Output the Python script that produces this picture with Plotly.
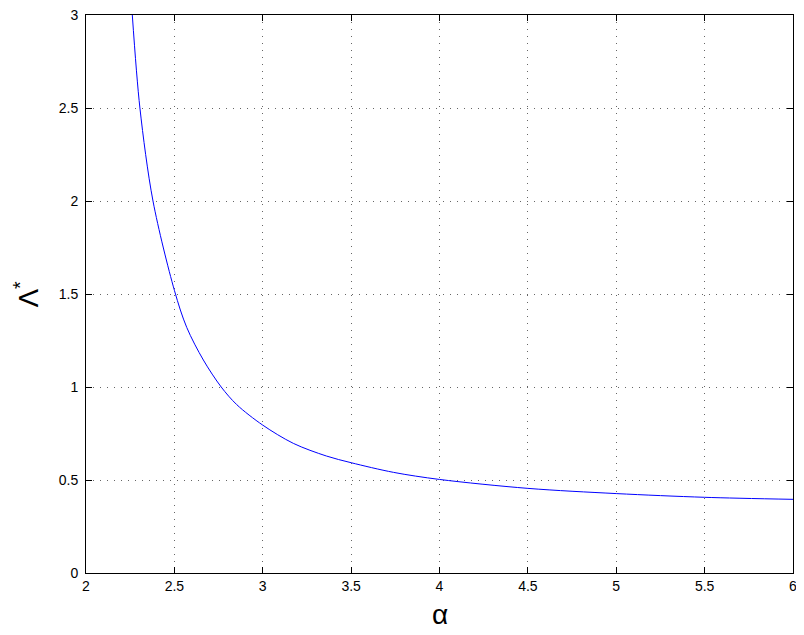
import plotly.graph_objects as go

# Values
alpha = [2.262, 2.305, 2.379, 2.5, 2.57, 2.664, 2.765, 2.853, 3.0, 3.173,
         3.36, 3.5, 3.74, 4.0, 4.5, 5.0, 5.5, 6.0]
lam_star = [3.0, 2.5, 2.0, 1.52, 1.32, 1.145, 1.0, 0.905, 0.795, 0.697,
            0.629, 0.593, 0.541, 0.503, 0.455, 0.427, 0.407, 0.396]

x_ticks = [2, 2.5, 3, 3.5, 4, 4.5, 5, 5.5, 6]
x_tick_labels = ["2", "2.5", "3", "3.5", "4", "4.5", "5", "5.5", "6"]
y_ticks = [0, 0.5, 1, 1.5, 2, 2.5, 3]
y_tick_labels = ["0", "0.5", "1", "1.5", "2", "2.5", "3"]

FONT = "Liberation Sans, Arial, sans-serif"

fig = go.Figure()
fig.add_trace(go.Scatter(
    x=alpha, y=lam_star, mode="lines",
    line=dict(color="rgb(0,0,255)", width=1, shape="spline", smoothing=0.9),
    showlegend=False, hoverinfo="skip", cliponaxis=True,
))

axis_common = dict(
    showline=True, linecolor="black", linewidth=1, mirror="ticks",
    ticks="inside", ticklen=6, tickcolor="black", tickwidth=1,
    showgrid=True, gridcolor="rgba(0,0,0,0.6)", griddash="1px,6px", gridwidth=1,
    zeroline=False, ticklabeloverflow="allow",
    tickfont=dict(family=FONT, size=14, color="black"),
)

fig.update_xaxes(range=[2, 6], tickvals=x_ticks, ticktext=x_tick_labels,
                 **axis_common)
fig.update_yaxes(range=[0, 3], tickvals=y_ticks, ticktext=y_tick_labels,
                 ticklabelstandoff=4, **axis_common)

fig.add_annotation(text="α", xref="paper", yref="paper", x=0.5, y=-0.075,
                   xanchor="center", yanchor="middle", showarrow=False,
                   font=dict(family=FONT, size=28, color="black"))
fig.add_annotation(text="Λ<sup>*</sup>", xref="paper", yref="paper", x=-0.084, y=0.5,
                   xanchor="center", yanchor="middle", textangle=-90, showarrow=False,
                   font=dict(family=FONT, size=28, color="black"))

# The page body adds an 8px offset, so the figure is shrunk by that amount
fig.update_layout(
    width=796, height=627,
    margin=dict(l=78, r=11, t=7, b=62, autoexpand=False),
    paper_bgcolor="white", plot_bgcolor="white",
)

fig.write_html("out.html")
